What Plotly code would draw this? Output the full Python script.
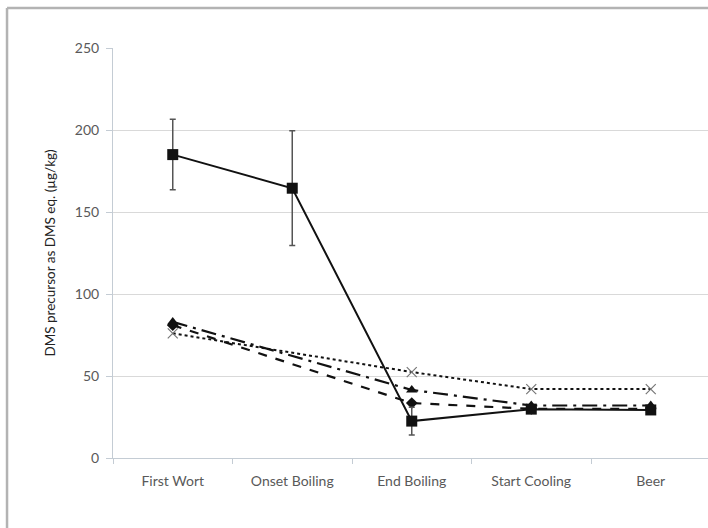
import plotly.graph_objects as go

stages = ["First Wort", "Onset Boiling", "End Boiling", "Start Cooling", "Beer"]

# DMS precursor (as DMS eq., µg/kg) per brewing stage
series_a = [185, 164.5, 22.5, 29.8, 29.3]
series_a_err = [21.5, 35, 8.5, 0, 0]
series_b = [83, None, 41.5, 32, 32]
series_c = [81, None, 33.5, 30, 30]
series_d = [76, None, 52.4, 42, 42]

y_ticks = [0, 50, 100, 150, 200, 250]

fig = go.Figure()

fig.add_trace(go.Scatter(
    x=stages, y=series_d, mode="lines+markers", connectgaps=True,
    line=dict(color="#111111", width=2, dash="dot"),
    marker=dict(symbol="x-thin", size=10, line=dict(color="#777777", width=1.2)),
    showlegend=False,
))
fig.add_trace(go.Scatter(
    x=stages, y=series_c, mode="lines+markers", connectgaps=True,
    line=dict(color="#111111", width=2.2, dash="dash"),
    marker=dict(symbol="diamond", size=9, color="#111111"),
    showlegend=False,
))
fig.add_trace(go.Scatter(
    x=stages, y=series_b, mode="lines+markers", connectgaps=True,
    line=dict(color="#111111", width=2.2, dash="longdashdot"),
    marker=dict(symbol="triangle-up", size=10, color="#111111"),
    showlegend=False,
))
fig.add_trace(go.Scatter(
    x=stages, y=series_a, mode="lines+markers",
    line=dict(color="#111111", width=2),
    marker=dict(symbol="square", size=11, color="#111111"),
    error_y=dict(type="data", array=series_a_err, color="#555555", thickness=1.5, width=3),
    showlegend=False,
))

# outer frame around the chart
frame = dict(color="#b3b3b3", width=2.5)
fig.add_shape(type="line", xref="paper", yref="paper", x0=-0.1781, x1=1.2, y0=1.0976, y1=1.0976, line=frame)
fig.add_shape(type="line", xref="paper", yref="paper", x0=-0.1781, x1=-0.1781, y0=1.0976, y1=-0.4, line=frame)

fig.update_layout(
    width=708, height=528,
    margin=dict(l=113, r=0, t=48, b=70),
    paper_bgcolor="white", plot_bgcolor="white",
    font=dict(family="Lato, Carlito, sans-serif", size=13, color="#595959"),
    xaxis=dict(
        type="category", range=[-0.5, 4.479],
        showgrid=False, showline=True, linecolor="#c4ccd4", linewidth=1,
        ticks="outside", tickson="boundaries", ticklen=5, tickcolor="#c4ccd4",
        ticklabelstandoff=10, tickfont=dict(size=14, color="#595959"),
    ),
    yaxis=dict(
        range=[0, 250], tickvals=y_ticks,
        showgrid=True, gridcolor="#d9d9d9", gridwidth=1,
        showline=True, linecolor="#c4ccd4", linewidth=1,
        ticks="outside", ticklen=6, tickcolor="#c4ccd4",
        ticklabelstandoff=4, tickfont=dict(size=14, color="#595959"), zeroline=False,
        title=dict(text="DMS precursor as DMS eq. (µg/kg)", font=dict(size=13.5, color="#222222"), standoff=16),
    ),
)

fig.write_html("out.html")
